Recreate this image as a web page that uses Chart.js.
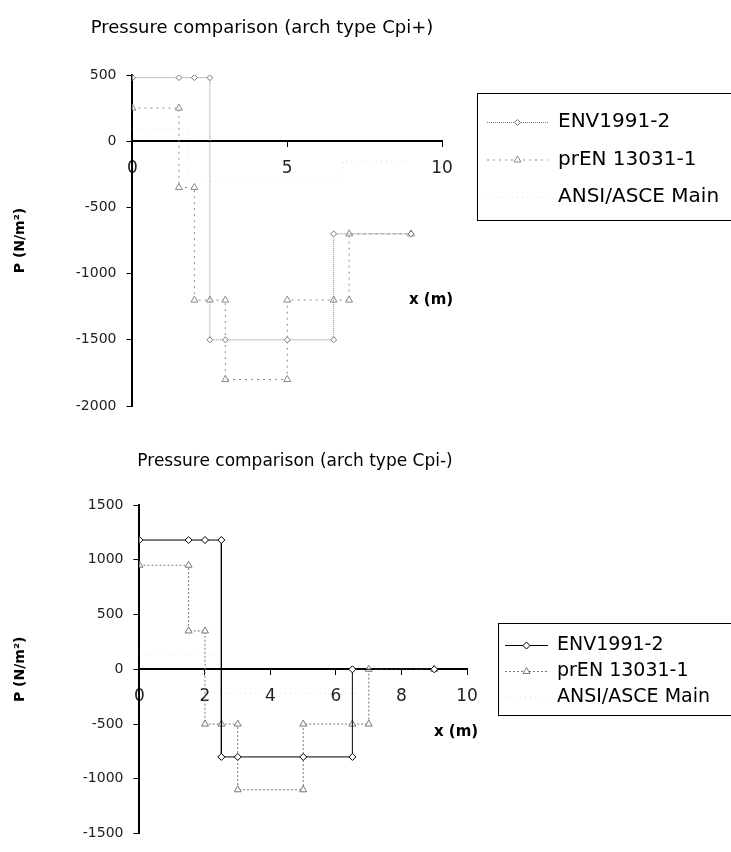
<!DOCTYPE html>
<html>
<head>
<meta charset="utf-8">
<script src="https://cdn.jsdelivr.net/npm/chart.js@4"></script>
<style>
  body { margin: 0; background: #fff; }
  canvas { display: block; }
</style>
</head>
<body>
<canvas id="topChart" width="731" height="430"></canvas>
<canvas id="bottomChart" width="731" height="422"></canvas>
<script>
// x positions along the arch (m)
var envX = [0, 1.5, 2, 2.5, 2.5, 3, 5, 6.5, 6.5, 9];
var prenX = [0, 1.5, 1.5, 2, 2, 2.5, 3, 3, 5, 5, 6.5, 7, 7, 9];
var ansiTopX = [0, 1.8, 1.8, 6.8, 6.8, 9];
var ansiBottomX = [0, 2.4, 2.4, 6.6, 6.6, 9];

// pressures, Cpi+ case (N/m2)
var envTopY = [480, 480, 480, 480, -1500, -1500, -1500, -1500, -700, -700];
var prenTopY = [250, 250, -350, -350, -1200, -1200, -1200, -1800, -1800, -1200, -1200, -1200, -700, -700];
var ansiTopY = [90, 90, -300, -300, -150, -150];

// pressures, Cpi- case (N/m2)
var envBottomY = [1180, 1180, 1180, 1180, -800, -800, -800, -800, 0, 0];
var prenBottomY = [950, 950, 350, 350, -500, -500, -500, -1100, -1100, -500, -500, -500, 0, 0];
var ansiBottomY = [140, 140, -220, -220, 0, 0];

var seriesNames = ['ENV1991-2', 'prEN 13031-1', 'ANSI/ASCE Main'];

var FONT = '"DejaVu Sans", "Liberation Sans", sans-serif';

function pts(xs, ys) {
  return xs.map(function (x, i) { return { x: x, y: ys[i] }; });
}

// title, x axis label and boxed legend, drawn like the spreadsheet original
var overlay = {
  id: 'overlay',
  afterDraw: function (chart, args, o) {
    var ctx = chart.ctx;
    ctx.save();
    ctx.fillStyle = '#000';
    ctx.textBaseline = 'middle';
    ctx.textAlign = 'center';
    ctx.font = o.titleSize + 'px ' + FONT;
    ctx.fillText(o.title, o.titleX, o.titleY);
    ctx.font = 'bold 15px ' + FONT;
    ctx.fillText('x (m)', o.xTitleX, o.xTitleY);

    var lg = o.legend;
    ctx.fillStyle = '#fff';
    ctx.fillRect(lg.left, lg.top, lg.width, lg.height);
    ctx.strokeStyle = '#000';
    ctx.lineWidth = 1;
    ctx.strokeRect(lg.left + 0.5, lg.top + 0.5, lg.width, lg.height);

    chart.data.datasets.forEach(function (ds, i) {
      var y = lg.top + lg.first + i * lg.gap;
      ctx.strokeStyle = ds.borderColor;
      ctx.lineWidth = ds.borderWidth;
      ctx.setLineDash(ds.borderDash || []);
      ctx.beginPath();
      ctx.moveTo(lg.lineFrom, y + 0.5);
      ctx.lineTo(lg.lineTo, y + 0.5);
      ctx.stroke();
      ctx.setLineDash([]);
      if (ds.pointRadius > 0) {
        ctx.fillStyle = ds.pointBackgroundColor;
        ctx.strokeStyle = ds.pointBorderColor;
        Chart.helpers.drawPoint(ctx, { pointStyle: ds.pointStyle, radius: ds.pointRadius, borderWidth: 1, rotation: 0 }, (lg.lineFrom + lg.lineTo) / 2, y + 0.5);
      }
      ctx.fillStyle = '#000';
      ctx.textAlign = 'left';
      ctx.font = lg.fontSize + 'px ' + FONT;
      ctx.fillText(ds.label, lg.textX, y);
    });
    ctx.restore();
  }
};

function axes(yMin, yMax, xStep, titleGap) {
  return {
    x: {
      type: 'linear',
      min: 0,
      max: 10,
      position: { y: 0 },
      ticks: { stepSize: xStep, color: '#222', font: { family: FONT, size: 17 }, padding: 12, maxRotation: 0 },
      grid: { drawOnChartArea: false, drawTicks: true, tickLength: 5, color: '#000' },
      border: { color: '#000', width: 2 }
    },
    y: {
      min: yMin,
      max: yMax,
      position: 'left',
      ticks: {
        stepSize: 500,
        color: '#222',
        font: { family: FONT, size: 14 },
        padding: 10,
        callback: function (v) { return String(v); }
      },
      grid: { drawOnChartArea: false, drawTicks: true, tickLength: 6, color: '#000' },
      border: { color: '#000', width: 2 },
      title: {
        display: true,
        text: 'P (N/m²)',
        color: '#000',
        font: { family: FONT, size: 14, weight: 'bold' },
        padding: { top: 0, bottom: titleGap }
      }
    }
  };
}

// Cpi+ chart
new Chart(document.getElementById('topChart'), {
  type: 'scatter',
  data: {
    datasets: [
      {
        label: seriesNames[0],
        data: pts(envX, envTopY),
        showLine: true,
        borderColor: '#808080',
        borderWidth: 1,
        borderDash: [1, 1],
        pointStyle: 'rectRot',
        pointRadius: 3,
        pointBackgroundColor: '#fff',
        pointBorderColor: '#777'
      },
      {
        label: seriesNames[1],
        data: pts(prenX, prenTopY),
        showLine: true,
        borderColor: '#8a8a8a',
        borderWidth: 1,
        borderDash: [2, 4],
        pointStyle: 'triangle',
        pointRadius: 4,
        pointBackgroundColor: '#fff',
        pointBorderColor: '#888'
      },
      {
        label: seriesNames[2],
        data: pts(ansiTopX, ansiTopY),
        showLine: true,
        borderColor: '#e2e2e2',
        borderWidth: 1,
        borderDash: [1, 4],
        pointStyle: 'circle',
        pointRadius: 0,
        pointBackgroundColor: '#e2e2e2',
        pointBorderColor: '#e2e2e2'
      }
    ]
  },
  options: {
    responsive: false,
    animation: false,
    layout: { padding: { top: 75, right: 289, bottom: 24, left: 12 } },
    plugins: {
      legend: { display: false },
      tooltip: { enabled: false },
      overlay: {
        title: 'Pressure comparison (arch type Cpi+)',
        titleSize: 18, titleX: 262, titleY: 28,
        xTitleX: 431, xTitleY: 300,
        legend: { left: 477, top: 93, width: 260, height: 127, first: 29, gap: 37.5, lineFrom: 487, lineTo: 548, textX: 558, fontSize: 20 }
      }
    },
    scales: axes(-2000, 500, 5, 37)
  },
  plugins: [overlay]
});

// Cpi- chart
new Chart(document.getElementById('bottomChart'), {
  type: 'scatter',
  data: {
    datasets: [
      {
        label: seriesNames[0],
        data: pts(envX, envBottomY),
        showLine: true,
        borderColor: '#000',
        borderWidth: 1,
        pointStyle: 'rectRot',
        pointRadius: 3.5,
        pointBackgroundColor: '#fff',
        pointBorderColor: '#000'
      },
      {
        label: seriesNames[1],
        data: pts(prenX, prenBottomY),
        showLine: true,
        borderColor: '#777',
        borderWidth: 1,
        borderDash: [2, 2],
        pointStyle: 'triangle',
        pointRadius: 4,
        pointBackgroundColor: '#fff',
        pointBorderColor: '#777'
      },
      {
        label: seriesNames[2],
        data: pts(ansiBottomX, ansiBottomY),
        showLine: true,
        borderColor: '#e2e2e2',
        borderWidth: 1,
        borderDash: [1, 4],
        pointStyle: 'circle',
        pointRadius: 0,
        pointBackgroundColor: '#e2e2e2',
        pointBorderColor: '#e2e2e2'
      }
    ]
  },
  options: {
    responsive: false,
    animation: false,
    layout: { padding: { top: 75, right: 264, bottom: 7, left: 12 } },
    plugins: {
      legend: { display: false },
      tooltip: { enabled: false },
      overlay: {
        title: 'Pressure comparison (arch type Cpi-)',
        titleSize: 17, titleX: 295, titleY: 32,
        xTitleX: 456, xTitleY: 302,
        legend: { left: 498, top: 193, width: 240, height: 92, first: 22, gap: 26, lineFrom: 505, lineTo: 548, textX: 557, fontSize: 19 }
      }
    },
    scales: axes(-1500, 1500, 2, 44)
  },
  plugins: [overlay]
});
</script>
</body>
</html>
